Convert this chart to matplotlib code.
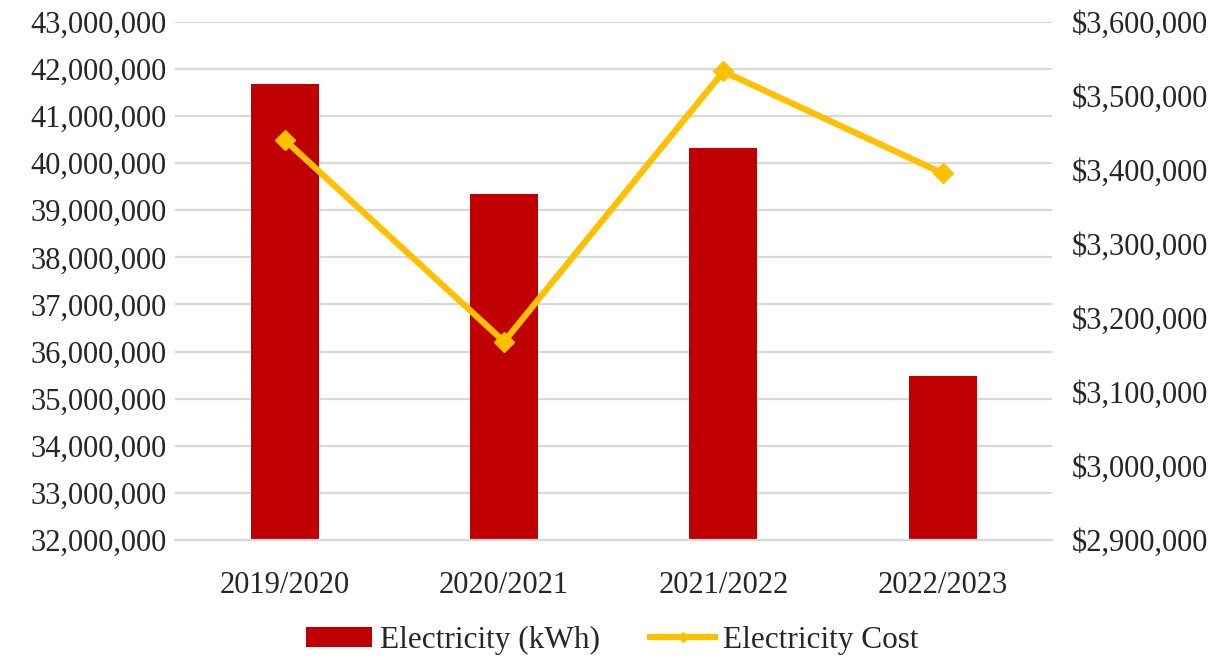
import matplotlib.pyplot as plt
from matplotlib.ticker import FuncFormatter, MultipleLocator

# Data
years = ['2019/2020', '2020/2021', '2021/2022', '2022/2023']
electricity_kwh = [41680000, 39340000, 40320000, 35480000]
electricity_cost = [3440500, 3168000, 3533000, 3395500]

plt.rcParams['font.family'] = ['Liberation Serif', 'DejaVu Serif']

fig = plt.figure(figsize=(12.25, 6.63), dpi=100)
ax = fig.add_axes([0.143, 0.1855, 0.716, 0.7815])
ax2 = ax.twinx()

x = range(len(years))
bars = ax.bar(x, electricity_kwh, width=0.31, color='#C00000', label='Electricity (kWh)', zorder=2)
line, = ax2.plot(x, electricity_cost, color='#FFC000', linewidth=4.5, marker='D',
                 markersize=10, label='Electricity Cost', zorder=3)

ax.set_xlim(-0.5, len(years) - 0.5)
ax.set_ylim(32000000, 43000000)
ax.yaxis.set_major_locator(MultipleLocator(1000000))
ax.yaxis.set_major_formatter(FuncFormatter(lambda v, p: f'{v:,.0f}'))
ax2.set_ylim(2900000, 3600000)
ax2.yaxis.set_major_locator(MultipleLocator(100000))
ax2.yaxis.set_major_formatter(FuncFormatter(lambda v, p: f'${v:,.0f}'))

ax.set_xticks(list(x))
ax.set_xticklabels(years)
ax.grid(axis='y', color='#d9d9d9', linewidth=1.6, zorder=0)
ax.set_axisbelow(True)

for a in (ax, ax2):
    for s in a.spines.values():
        s.set_visible(False)
    a.tick_params(length=0, labelsize=22, colors='#262626')
ax.tick_params(axis='x', pad=22)
ax.tick_params(axis='y', pad=6)
ax2.tick_params(axis='y', pad=14)
ax.spines['bottom'].set_visible(True)
ax.spines['bottom'].set_color('#d9d9d9')
ax.spines['bottom'].set_linewidth(1.6)

fig.legend([bars, line], ['Electricity (kWh)', 'Electricity Cost'], loc='lower center',
           bbox_to_anchor=(0.5, -0.03), ncol=2, frameon=False, fontsize=22.5,
           handlelength=2.1, handleheight=0.6, handletextpad=0.25, columnspacing=1.6,
           markerscale=0.55, labelcolor='#262626')

fig.savefig('out.png', dpi=100)
